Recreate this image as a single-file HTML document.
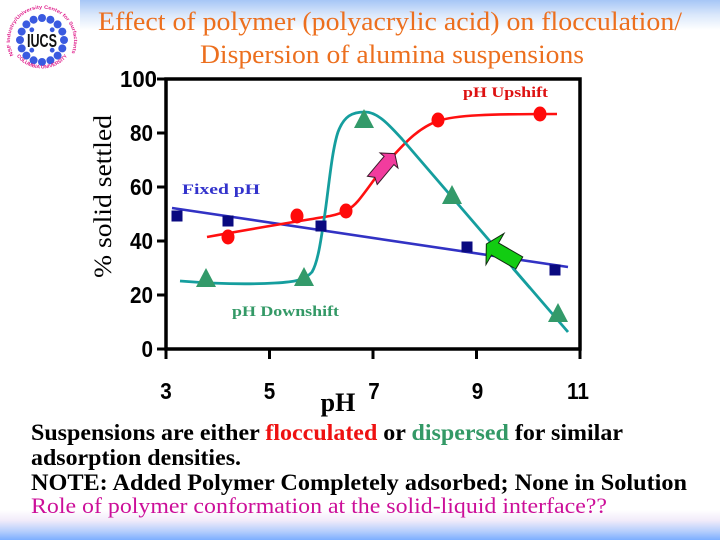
<!DOCTYPE html>
<html>
<head>
<meta charset="utf-8">
<style>
  html,body{margin:0;padding:0;background:#fff;}
  body{width:720px;height:540px;overflow:hidden;}
  svg{display:block;}
</style>
</head>
<body>
<svg width="720" height="540" viewBox="0 0 720 540" xmlns="http://www.w3.org/2000/svg">
  <defs>
    <linearGradient id="topg" x1="0" y1="0" x2="0" y2="1">
      <stop offset="0" stop-color="#a6c6f6"/>
      <stop offset="0.5" stop-color="#dbe8fb"/>
      <stop offset="1" stop-color="#ffffff"/>
    </linearGradient>
    <linearGradient id="botg" x1="0" y1="0" x2="0" y2="1">
      <stop offset="0" stop-color="#ffffff"/>
      <stop offset="0.35" stop-color="#f1ebfa"/>
      <stop offset="0.7" stop-color="#b7cffc"/>
      <stop offset="1" stop-color="#7caeff"/>
    </linearGradient>
    <path id="arcTop" d="M14.5,57 A32,32 0 1 1 69.5,57"/>
    <path id="arcBot" d="M14,52 A32,32 0 0 0 70,52"/>
  </defs>

  <!-- background -->
  <rect x="0" y="0" width="720" height="540" fill="#ffffff"/>
  <rect x="0" y="0" width="720" height="30" fill="url(#topg)"/>
  <rect x="0" y="510" width="720" height="30" fill="url(#botg)"/>

  <!-- logo -->
  <g>
    <rect x="0" y="0" width="80" height="79" fill="#ffffff"/>
    <g fill="#3a5ae0">
      <circle cx="64" cy="40" r="4"/>
      <circle cx="62.3" cy="48.4" r="4"/>
      <circle cx="57.6" cy="55.6" r="4"/>
      <circle cx="50.4" cy="60.3" r="4"/>
      <circle cx="42" cy="62" r="4"/>
      <circle cx="33.6" cy="60.3" r="4"/>
      <circle cx="26.4" cy="55.6" r="4"/>
      <circle cx="21.7" cy="48.4" r="4"/>
      <circle cx="20" cy="40" r="4"/>
      <circle cx="21.7" cy="31.6" r="4"/>
      <circle cx="26.4" cy="24.4" r="4"/>
      <circle cx="33.6" cy="19.7" r="4"/>
      <circle cx="42" cy="18" r="4"/>
      <circle cx="50.4" cy="19.7" r="4"/>
      <circle cx="57.6" cy="24.4" r="4"/>
      <circle cx="62.3" cy="31.6" r="4"/>
      <circle cx="31.8" cy="29.8" r="2.4"/>
      <circle cx="52.2" cy="29.8" r="2.4"/>
      <circle cx="31.8" cy="50.2" r="2.4"/>
      <circle cx="52.2" cy="50.2" r="2.4"/>
    </g>
    <text x="42" y="47" font-family="Liberation Sans, sans-serif" font-weight="bold" font-size="18" fill="#111" text-anchor="middle" textLength="30" lengthAdjust="spacingAndGlyphs">IUCS</text>
    <text font-family="Liberation Sans, sans-serif" font-weight="bold" font-size="5" fill="#e0208c">
      <textPath href="#arcTop" startOffset="2" textLength="128" lengthAdjust="spacingAndGlyphs">NSF Industry/University Center for Surfactants</textPath>
    </text>
    <text font-family="Liberation Sans, sans-serif" font-weight="bold" font-size="5" fill="#e0208c">
      <textPath href="#arcBot" startOffset="50%" text-anchor="middle" dy="4">COLUMBIA UNIVERSITY</textPath>
    </text>
  </g>

  <!-- title -->
  <g font-family="Liberation Serif, serif" font-size="26" fill="#ec6f1e">
    <text x="98" y="30" textLength="584" lengthAdjust="spacingAndGlyphs">Effect of polymer (polyacrylic acid) on flocculation/</text>
    <text x="200" y="63" textLength="384" lengthAdjust="spacingAndGlyphs">Dispersion of alumina suspensions</text>
  </g>

  <!-- axes frame -->
  <rect x="166" y="79" width="414" height="270" fill="none" stroke="#000" stroke-width="3.5"/>
  <g stroke="#000" stroke-width="3">
    <line x1="157" y1="79" x2="166" y2="79"/>
    <line x1="157" y1="133" x2="166" y2="133"/>
    <line x1="157" y1="187" x2="166" y2="187"/>
    <line x1="157" y1="241" x2="166" y2="241"/>
    <line x1="157" y1="295" x2="166" y2="295"/>
    <line x1="157" y1="349" x2="166" y2="349"/>
    <line x1="166" y1="349" x2="166" y2="359"/>
    <line x1="269.5" y1="349" x2="269.5" y2="359"/>
    <line x1="373" y1="349" x2="373" y2="359"/>
    <line x1="476.5" y1="349" x2="476.5" y2="359"/>
    <line x1="580" y1="349" x2="580" y2="359"/>
  </g>

  <!-- tick labels -->
  <g font-family="Liberation Sans, sans-serif" font-weight="bold" font-size="23" fill="#000">
    <text x="157" y="87" text-anchor="end" textLength="37" lengthAdjust="spacingAndGlyphs">100</text>
    <text x="153" y="141" text-anchor="end" textLength="23" lengthAdjust="spacingAndGlyphs">80</text>
    <text x="153" y="195" text-anchor="end" textLength="23" lengthAdjust="spacingAndGlyphs">60</text>
    <text x="153" y="249" text-anchor="end" textLength="23" lengthAdjust="spacingAndGlyphs">40</text>
    <text x="153" y="303" text-anchor="end" textLength="23" lengthAdjust="spacingAndGlyphs">20</text>
    <text x="153" y="357" text-anchor="end" textLength="11.5" lengthAdjust="spacingAndGlyphs">0</text>
    <text x="166" y="399" text-anchor="middle" textLength="11.5" lengthAdjust="spacingAndGlyphs">3</text>
    <text x="269.5" y="399" text-anchor="middle" textLength="11.5" lengthAdjust="spacingAndGlyphs">5</text>
    <text x="374" y="399" text-anchor="middle" textLength="11.5" lengthAdjust="spacingAndGlyphs">7</text>
    <text x="477.5" y="399" text-anchor="middle" textLength="11.5" lengthAdjust="spacingAndGlyphs">9</text>
    <text x="578" y="399" text-anchor="middle" textLength="22" lengthAdjust="spacingAndGlyphs">11</text>
  </g>

  <!-- axis titles -->
  <text x="0" y="0" transform="translate(111,196.5) rotate(-90)" font-family="Liberation Serif, serif" font-size="25" fill="#000" text-anchor="middle" textLength="163" lengthAdjust="spacingAndGlyphs">% solid settled</text>
  <text x="338" y="411" font-family="Liberation Serif, serif" font-weight="bold" font-size="26" fill="#000" text-anchor="middle">pH</text>

  <!-- series lines -->
  <line x1="172" y1="208" x2="568" y2="267" stroke="#3232c4" stroke-width="2.6"/>
  <path d="M207,237 C250,229 300,221 330,216 C345,213 352,208 358,201 C368,189 378,173 392,157 C405,143 418,128 438,121 C455,115 490,114 557,114" fill="none" stroke="#ff1010" stroke-width="2.6"/>
  <path d="M180,281 C205,283 240,285 275,283 C295,282 305,280 312,272 C318,262 321,240 325,213 C329,185 332,150 338,132 C344,116 352,112 365,112 C378,112 390,126 402,139 L568,332" fill="none" stroke="#159e9e" stroke-width="2.8"/>

  <!-- blue squares -->
  <g fill="#0a0a80">
    <rect x="171.5" y="210.5" width="11" height="11"/>
    <rect x="222.5" y="215.5" width="11" height="11"/>
    <rect x="315.5" y="220.5" width="11" height="11"/>
    <rect x="461.5" y="241.5" width="11" height="11"/>
    <rect x="549.5" y="264.5" width="11" height="11"/>
  </g>

  <!-- red circles -->
  <g fill="#ff0a0a">
    <ellipse cx="228" cy="237" rx="6.5" ry="7.5"/>
    <ellipse cx="297" cy="216" rx="6.5" ry="7.5"/>
    <ellipse cx="346" cy="211" rx="6.5" ry="7.5"/>
    <ellipse cx="438" cy="120" rx="6.5" ry="7.5"/>
    <ellipse cx="540" cy="114" rx="6.5" ry="7.5"/>
  </g>

  <!-- green triangles -->
  <g fill="#339a6a">
    <polygon points="206,268 196,287 216,287"/>
    <polygon points="304,267 294,286 314,286"/>
    <polygon points="364,109 354,128 374,128"/>
    <polygon points="452,185 442,204 462,204"/>
    <polygon points="558,303 548,322 568,322"/>
  </g>

  <!-- pink arrow (upshift) -->
  <polygon transform="translate(389,160.5) rotate(-50)" points="-26,-6.4 0,-6.4 0,-11.7 9,0 0,11.7 0,6.4 -26,6.4 -22,0" fill="#f23c9e" stroke="#3a1a2a" stroke-width="1"/>

  <!-- green arrow (downshift) -->
  <polygon transform="translate(495,249) rotate(210)" points="-28,-7 0,-7 0,-18 10,0 0,18 0,7 -28,7" fill="#12cc12" stroke="#0f2a0f" stroke-width="1"/>
  <line x1="513" y1="268.5" x2="530" y2="288" stroke="#159e9e" stroke-width="2.6"/>

  <!-- series labels -->
  <g font-family="Liberation Serif, serif" font-weight="bold" font-size="15">
    <text x="463" y="97" fill="#dd1111" textLength="85" lengthAdjust="spacingAndGlyphs">pH Upshift</text>
    <text x="182" y="194" fill="#3333cc" textLength="78" lengthAdjust="spacingAndGlyphs">Fixed pH</text>
    <text x="232" y="316" fill="#339966" textLength="107" lengthAdjust="spacingAndGlyphs">pH Downshift</text>
  </g>

  <!-- bottom text -->
  <g font-family="Liberation Serif, serif">
    <text x="31" y="440" font-size="23" font-weight="bold" fill="#000" textLength="592" lengthAdjust="spacingAndGlyphs">Suspensions are either <tspan fill="#ee1111">flocculated</tspan> or <tspan fill="#339966">dispersed</tspan> for similar</text>
    <text x="31" y="465" font-size="23" font-weight="bold" fill="#000" textLength="210" lengthAdjust="spacingAndGlyphs">adsorption densities.</text>
    <text x="31" y="490" font-size="23" font-weight="bold" fill="#000" textLength="656" lengthAdjust="spacingAndGlyphs">NOTE:  Added Polymer Completely adsorbed; None in Solution</text>
    <text x="31" y="513" font-size="22" fill="#cc0f99" textLength="576" lengthAdjust="spacingAndGlyphs">Role of polymer conformation at the solid-liquid interface??</text>
  </g>
</svg>
</body>
</html>
